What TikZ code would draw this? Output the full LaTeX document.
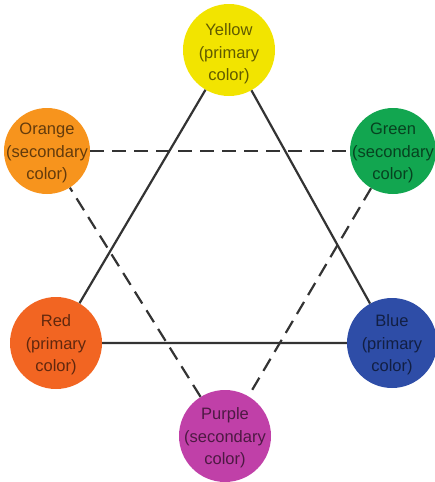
\documentclass[tikz,border=0pt]{standalone}
\usepackage{fontspec}
\setmainfont{Liberation Sans}
\definecolor{cyellow}{HTML}{F2E400}
\definecolor{corange}{HTML}{F7941D}
\definecolor{cgreen}{HTML}{12A650}
\definecolor{cred}{HTML}{F26522}
\definecolor{cblue}{HTML}{2E4DA7}
\definecolor{cpurple}{HTML}{C040A8}
\tikzset{
  wheel/.style={circle,inner sep=0pt,minimum size=#1},
  lbl/.style={align=center,text=#1!40!black,font=\fontsize{16.5}{22.5}\selectfont},
  prim/.style={line width=2.2pt,draw=black!80},
  sec/.style={line width=2.2pt,draw=black!80,dash pattern=on 14pt off 8pt}
}
\begin{document}
\begin{tikzpicture}[x=1pt,y=-1pt]
\useasboundingbox (0,0) rectangle (435,482);
\node[wheel=92pt,fill=cyellow,label={[lbl=cyellow,yshift=-4pt]center:Yellow\\(primary\\color)}] (v1) at (229,50) {};
\node[wheel=86pt,fill=cgreen,label={[lbl=cgreen,yshift=-2pt]center:Green\\(secondary\\color)}] (v2) at (393,151) {};
\node[wheel=90pt,fill=cblue,label={[lbl=cblue,yshift=-2pt]center:Blue\\(primary\\color)}] (v3) at (392,343) {};
\node[wheel=92pt,fill=cpurple,label={[lbl=cpurple,yshift=-2pt]center:Purple\\(secondary\\color)}] (v4) at (225,436) {};
\node[wheel=92pt,fill=cred,label={[lbl=cred,yshift=-2pt]center:Red\\(primary\\color)}] (v5) at (56,343) {};
\node[wheel=86pt,fill=corange,label={[lbl=corange,yshift=-2pt]center:Orange\\(secondary\\color)}] (v6) at (47,151) {};

\draw[prim] (v1) -- (v5) -- (v3) -- (v1);
\draw[sec] (v6) -- (v2);
\draw[sec] (v2) -- (v4);
\draw[sec] (v4) -- (v6);
\end{tikzpicture}
\end{document}
